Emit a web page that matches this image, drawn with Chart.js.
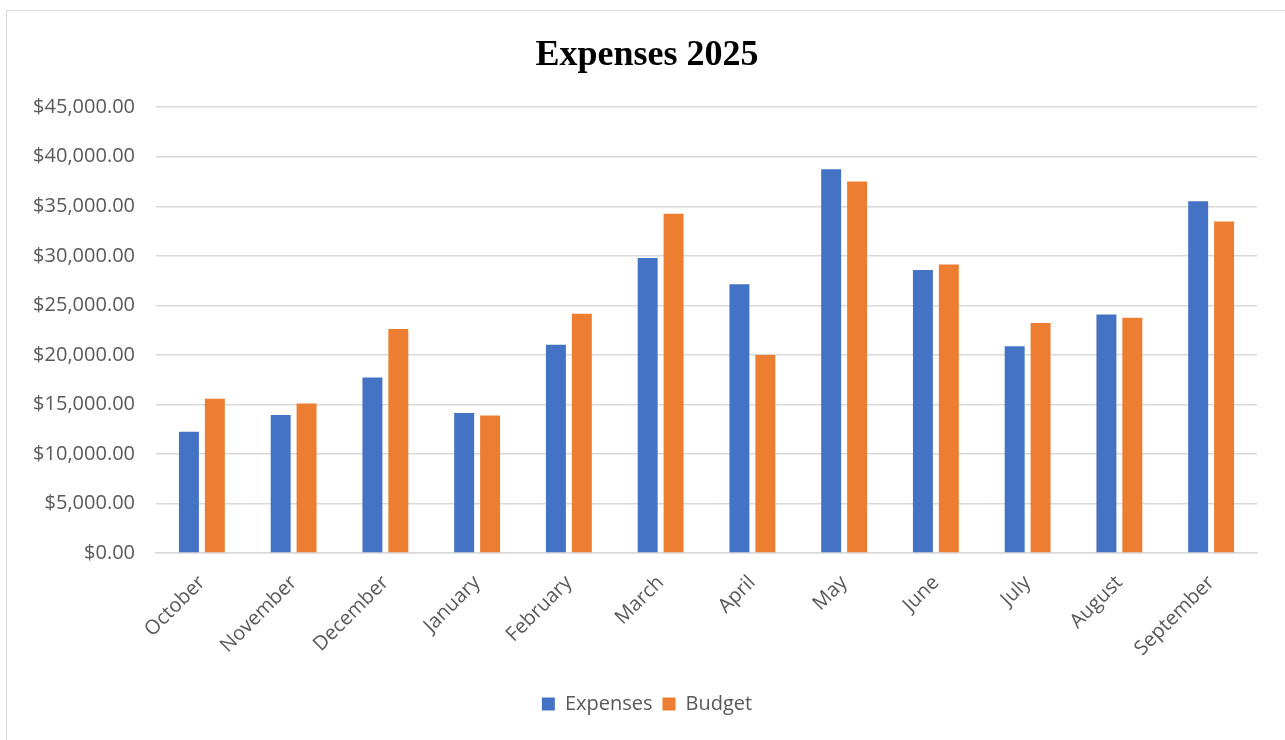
<!DOCTYPE html>
<html>
<head>
<meta charset="utf-8">
<script src="https://cdn.jsdelivr.net/npm/chart.js@4.4.1/dist/chart.umd.min.js"></script>
<style>
  html, body { margin: 0; padding: 0; background: #fff; overflow: hidden; }
  #frame { position: absolute; left: 6px; top: 10px; width: 1300px; height: 760px; border: 1px solid #d9d9d9; box-sizing: border-box; }
  #wrap { position: absolute; left: 0; top: 0; width: 1285px; height: 740px; }
</style>
</head>
<body>
<div id="frame"></div>
<div id="wrap"><canvas id="c" width="1285" height="740"></canvas></div>
<script>
const categories = ["October","November","December","January","February","March","April","May","June","July","August","September"];
const expenses = [12250, 13920, 17710, 14120, 21030, 29780, 27130, 38730, 28570, 20860, 24080, 35510];
const budget   = [15560, 15090, 22600, 13880, 24140, 34240, 19990, 37490, 29110, 23210, 23740, 33470];
const yTicks = [0, 5000, 10000, 15000, 20000, 25000, 30000, 35000, 40000, 45000];

const fmt = v => "$" + v.toLocaleString("en-US", {minimumFractionDigits: 2, maximumFractionDigits: 2});

new Chart(document.getElementById("c"), {
  type: "bar",
  data: {
    labels: categories,
    datasets: [
      { label: "Expenses", data: expenses, backgroundColor: "#4472C4", categoryPercentage: 0.565, barPercentage: 0.77 },
      { label: "Budget", data: budget, backgroundColor: "#ED7D31", categoryPercentage: 0.565, barPercentage: 0.77 }
    ]
  },
  options: {
    responsive: false,
    animation: false,
    layout: { padding: { left: 9, right: 0, top: 0, bottom: 16 } },
    plugins: {
      title: {
        display: true,
        text: "Expenses 2025",
        color: "#000",
        font: { family: "Liberation Serif", size: 36, weight: "bold" },
        padding: { top: 34, bottom: 30 }
      },
      legend: {
        position: "bottom",
        labels: {
          color: "#595959",
          font: { family: "Open Sans", size: 20 },
          boxWidth: 13, boxHeight: 13, padding: 10
        }
      },
      tooltip: { enabled: false }
    },
    scales: {
      x: {
        grid: { display: false, drawTicks: false },
        border: { display: true, color: "#d9d9d9", width: 1.5 },
        ticks: {
          color: "#595959",
          font: { family: "Open Sans", size: 20 },
          minRotation: 45, maxRotation: 45, padding: 18
        },
        afterFit: s => { s.height = 131; }
      },
      y: {
        min: 0, max: 45000,
        afterBuildTicks: s => { s.ticks = yTicks.map(v => ({ value: v })); },
        grid: { color: "#d9d9d9", lineWidth: 1.5, drawTicks: false },
        border: { display: false },
        ticks: {
          color: "#595959",
          font: { family: "Open Sans", size: 20 },
          padding: 21,
          callback: v => fmt(v)
        },
        afterFit: s => { s.width = 147; }
      },
      yRight: {
        position: "right",
        display: true,
        grid: { display: false, drawTicks: false },
        border: { display: false },
        ticks: { display: false },
        afterFit: s => { s.width = 28; }
      }
    }
  }
});
</script>
</body>
</html>
